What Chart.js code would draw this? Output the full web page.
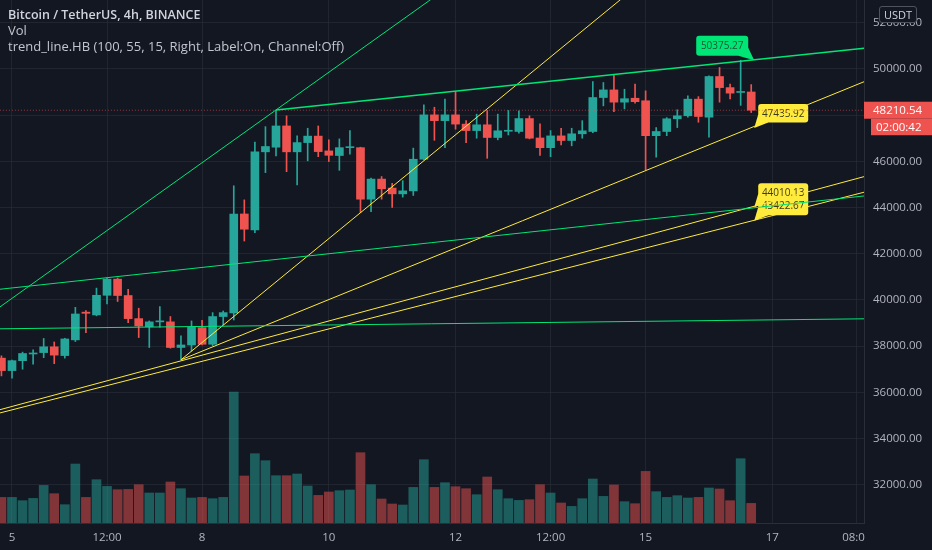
<!DOCTYPE html>
<html>
<head>
<meta charset="utf-8">
<script src="https://cdn.jsdelivr.net/npm/chart.js@4.4.0/dist/chart.umd.min.js"></script>
<style>
  html, body { margin: 0; padding: 0; background: #131722; }
  #wrap { position: relative; width: 932px; height: 550px; }
  .lg { position: absolute; left: 8px; font-family: 'Open Sans', sans-serif; font-size: 13px; line-height: 16px; color: #c3c6ce; white-space: nowrap; }
  #unit { position: absolute; left: 879px; top: 6px; width: 36px; height: 15px; border: 1px solid #50535e; border-radius: 3px; background: #131722;
          font-family: 'Open Sans', sans-serif; font-size: 11px; line-height: 15px; text-align: center; color: #d1d4dc; }
</style>
</head>
<body>
<div id="wrap">
  <canvas id="btc-chart"></canvas>
  <div class="lg" style="top:7px;font-weight:600;font-size:12.5px;color:#d1d4dc">Bitcoin / TetherUS, 4h, BINANCE</div>
  <div class="lg" style="top:22px">Vol</div>
  <div class="lg" style="top:38px">trend_line.HB (100, 55, 15, Right, Label:On, Channel:Off)</div>
  <div id="unit">USDT</div>
</div>
<script>
// 4h candles, bar 0 = 5th 00:00
const firstBar = -1;
const opens  = [37480, 36940, 37370, 37660, 37720, 37970, 37590, 38270, 39470, 39350, 40200, 40900, 40190, 39190, 38840, 39050, 39050, 37940,
                38050, 38800, 38080, 39280, 39440, 43720, 43030, 46410, 46610, 47530, 46410, 46810, 47090, 46450, 46250, 46590, 46590, 44360,
                45230, 44840, 44590, 44720, 46090, 48010, 47760, 48010, 47610, 47330, 47580, 47030, 47300, 47290, 47850, 47010, 46590, 47100,
                46900, 47190, 47290, 48760, 49090, 48560, 48730, 48620, 47110, 47290, 47840, 47970, 48690, 47910, 49670, 49190, 48980, 49000];
const highs  = [37580, 37400, 37740, 37840, 38330, 38180, 38340, 39680, 39540, 40510, 40950, 40950, 40460, 39640, 39090, 39710, 39280, 38440,
                39090, 39120, 39450, 39520, 44940, 44330, 46830, 47500, 48220, 47970, 47100, 47430, 47530, 46930, 46970, 47330, 46610, 45270,
                45340, 45050, 45160, 46570, 48440, 48340, 48690, 49020, 47760, 48040, 48200, 48040, 48200, 48180, 47970, 47620, 47330, 47430,
                47430, 47760, 49450, 49410, 49740, 49120, 49340, 49050, 47460, 47890, 48230, 48830, 48800, 49700, 50060, 49340, 50375.27, 49320];
const lows   = [36710, 36610, 37000, 37220, 37500, 37240, 37480, 38200, 38580, 39310, 39830, 39930, 39020, 38370, 37940, 38820, 37910, 37400,
                37790, 38050, 38020, 38920, 39130, 42550, 42910, 45510, 46230, 45550, 44980, 46020, 46200, 45990, 45610, 46310, 43780, 43820,
                44360, 44000, 44450, 44520, 46060, 46910, 46590, 47390, 46810, 47000, 46130, 46930, 47140, 47220, 46970, 46250, 46200, 46710,
                46670, 47000, 47240, 48400, 48150, 48270, 48520, 45630, 46180, 47110, 47460, 47910, 47690, 47040, 48560, 48700, 48420, 48110];
const closes = [36940, 37370, 37680, 37700, 37970, 37610, 38310, 39390, 39420, 40200, 40900, 40190, 39190, 38870, 39050, 39070, 37940, 38050,
                38820, 38080, 39280, 39450, 43720, 43060, 46410, 46640, 47530, 46410, 46810, 47090, 46420, 46260, 46590, 46610, 44360, 45230,
                44810, 44590, 44720, 46090, 48010, 47760, 48010, 47610, 47330, 47580, 47030, 47320, 47330, 47850, 47000, 46590, 47100, 46900,
                47190, 47320, 48760, 49090, 48560, 48710, 48580, 47110, 47290, 47840, 47970, 48690, 47940, 49670, 49190, 48950, 49000, 48210.54];
const volumes = [25.6, 25.6, 22.3, 24.6, 37.6, 29.3, 18.3, 59.0, 25.6, 43.3, 36.6, 33.3, 33.6, 38.3, 30.0, 30.0, 41.0, 34.3,
                 25.0, 25.6, 24.3, 25.6, 131.0, 47.0, 69.3, 62.3, 47.3, 47.3, 49.0, 37.0, 27.6, 31.0, 32.3, 33.0, 70.3, 38.3,
                 24.0, 19.0, 18.0, 35.6, 63.3, 35.6, 40.3, 36.3, 34.3, 28.3, 46.0, 33.3, 24.3, 22.6, 23.3, 38.3, 30.0, 20.0,
                 16.6, 24.3, 44.0, 26.6, 38.0, 21.3, 19.3, 51.6, 31.3, 25.6, 27.3, 25.0, 25.6, 35.0, 34.0, 22.3, 64.3, 19.6];

const tickBars   = [0, 9, 18, 30, 42, 51, 60, 72, 80];
const tickLabels = ['5', '12:00', '8', '10', '12', '12:00', '15', '17', '08:00'];
const priceTicks = [32000, 34000, 36000, 38000, 40000, 42000, 44000, 46000, 48000, 50000, 52000];

// trend lines: [bar, price, bar, price]
const greenLines = [[-2, 39416, 42, 53768], [25, 48220, 80.7, 50893], [-1.2, 40458, 80.7, 44500], [-1.2, 38749, 80.7, 39182]];
const yellowLines = [[16, 37408, 60, 53890], [16, 37408, 80.7, 49448], [-1.2, 35240, 80.7, 45338], [-1.2, 35100, 80.7, 44663]];
const labelBars = [70, 70, 70, 70];
const labelValues = [50375.27, 47435.92, 44010.13, 43422.67];
const countdown = '02:00:42';

const UP = '#26a69a', DOWN = '#ef5350', BG = '#131722';
const bars = opens.map((o, k) => k + firstBar);
const isUp = opens.map((o, k) => closes[k] >= o);
const lastClose = closes[closes.length - 1];

const lineSet = (l, color, width) => ({
    type: 'line', order: 0, yAxisID: 'y',
    data: [{ x: l[0], y: l[1] }, { x: l[2], y: l[3] }],
    borderColor: color, borderWidth: width, pointRadius: 0, tension: 0
});

const datasets = [];
greenLines.forEach((l, k) => datasets.push(lineSet(l, '#00e676', k === 1 ? 1.6 : 1)));
yellowLines.forEach(l => datasets.push(lineSet(l, '#ffeb3b', 1)));
datasets.push({
    type: 'line', order: 0, yAxisID: 'y',
    data: [{ x: -2, y: lastClose }, { x: 82, y: lastClose }],
    borderColor: 'rgba(239,83,80,0.6)', borderWidth: 1, borderDash: [1, 2], pointRadius: 0
});
datasets.push({
    type: 'bar', order: 1, yAxisID: 'y', grouped: false, barThickness: 8, minBarLength: 1,
    data: bars.map((b, k) => ({ x: b, y: [opens[k], closes[k]] })),
    backgroundColor: isUp.map(u => u ? UP : DOWN)
});
datasets.push({
    type: 'bar', order: 2, yAxisID: 'y', grouped: false, barThickness: 1,
    data: bars.map((b, k) => ({ x: b, y: [lows[k], highs[k]] })),
    backgroundColor: isUp.map(u => u ? UP : DOWN)
});
datasets.push({
    type: 'bar', order: 3, yAxisID: 'vol', grouped: false, barThickness: 9,
    data: bars.map((b, k) => ({ x: b, y: volumes[k] })),
    backgroundColor: isUp.map(u => u ? 'rgba(38,166,154,0.5)' : 'rgba(239,83,80,0.5)')
});

const labelLook = [
    { fill: '#00e676', text: '#1a5632', side: 'left' },
    { fill: '#ffeb3b', text: '#3d3a1c', side: 'right' },
    { fill: '#ffeb3b', text: '#3d3a1c', side: 'right' },
    { fill: '#ffeb3b', text: '#3d3a1c', side: 'right' }
];

const overlay = {
    id: 'overlay',
    beforeDatasetsDraw(chart) {
        const { ctx, scales: { x, y } } = chart;
        ctx.save();
        ctx.font = "10px 'Open Sans', sans-serif";
        ctx.textAlign = 'center';
        ctx.textBaseline = 'middle';
        labelValues.forEach((v, k) => {
            const look = labelLook[k];
            const tx = x.getPixelForValue(labelBars[k]) + 3;
            const ty = y.getPixelForValue(v);
            let left, top, w, h;
            ctx.fillStyle = look.fill;
            ctx.beginPath();
            if (look.side === 'left') {
                w = 52; h = 20; left = tx - 6 - w; top = ty - 4.5 - h;
                ctx.moveTo(left + w - 10, top + h);
                ctx.lineTo(left + w, top + h - 8);
                ctx.lineTo(tx, ty);
            } else {
                w = 50; h = 18.5; left = tx + 4; top = ty - 5.5 - h;
                ctx.moveTo(left, top + h - 8);
                ctx.lineTo(left + 10, top + h);
                ctx.lineTo(tx, ty);
            }
            ctx.closePath();
            ctx.fill();
            ctx.beginPath();
            ctx.roundRect(left, top, w, h, 3);
            ctx.fill();
            ctx.fillStyle = look.text;
            ctx.fillText(v.toFixed(2), left + w / 2, top + h / 2 + 0.5);
        });
        ctx.restore();
    },
    afterDraw(chart) {
        const { ctx, chartArea: a, scales: { y } } = chart;
        ctx.save();
        // hide x labels running into the price scale
        ctx.fillStyle = BG;
        ctx.fillRect(a.right + 1, a.bottom + 1, chart.width - a.right, chart.height - a.bottom);
        const py = y.getPixelForValue(lastClose);
        ctx.fillStyle = DOWN;
        ctx.fillRect(a.right, py - 8.5, chart.width - a.right, 17);
        ctx.fillRect(a.right + 7, py + 8.5, chart.width - a.right - 7, 16.5);
        ctx.fillStyle = '#ffffff';
        ctx.font = "11.5px 'Open Sans', sans-serif";
        ctx.textBaseline = 'middle';
        ctx.textAlign = 'left';
        ctx.fillText(lastClose.toFixed(2), a.right + 9, py);
        ctx.fillText(countdown, a.right + 12, py + 17);
        ctx.restore();
    }
};

Chart.defaults.font.family = "'Open Sans', sans-serif";
const ctx = document.getElementById('btc-chart').getContext('2d');
const btcChart = new Chart(ctx, {
    type: 'bar',
    data: { datasets: datasets },
    options: {
        responsive: true,
        maintainAspectRatio: false,
        animation: false,
        layout: { padding: 0 },
        plugins: {
            legend: { display: false },
            tooltip: { enabled: false }
        },
        scales: {
            x: {
                type: 'linear', position: 'bottom', offset: false,
                min: -1.136, max: 80.68,
                afterBuildTicks: s => { s.ticks = tickBars.map(v => ({ value: v })); },
                afterFit: s => { s.height = 27; s.paddingLeft = 0; s.paddingRight = 0; },
                grid: { color: 'rgba(42,46,57,0.6)', drawTicks: false, offset: false },
                border: { color: '#2a2e39' },
                ticks: {
                    autoSkip: false, maxRotation: 0, padding: 8, color: '#b2b5be',
                    font: { size: 11.5 },
                    callback: v => tickLabels[tickBars.indexOf(v)]
                }
            },
            y: {
                type: 'linear', position: 'right',
                min: 30343, max: 52982,
                afterBuildTicks: s => { s.ticks = priceTicks.map(v => ({ value: v })); },
                afterFit: s => { s.width = 68; s.paddingTop = 0; s.paddingBottom = 0; },
                grid: { color: 'rgba(42,46,57,0.6)', drawTicks: false },
                border: { color: '#2a2e39' },
                ticks: {
                    padding: 9, color: '#b2b5be', font: { size: 11.5 },
                    callback: v => v.toFixed(2)
                }
            },
            vol: { type: 'linear', display: false, min: 0, max: 523 }
        }
    },
    plugins: [overlay]
});
</script>
</body>
</html>
